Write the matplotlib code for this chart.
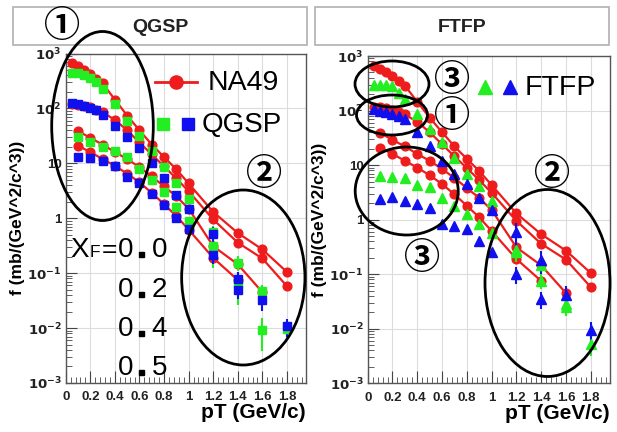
import numpy as np
import matplotlib
matplotlib.use("Agg")
import matplotlib.pyplot as plt
from matplotlib.patches import Ellipse, Rectangle
from matplotlib.ticker import FixedLocator, NullFormatter, LogLocator, MultipleLocator

# ---------------- data ----------------
pt_ab = [0.05, 0.1, 0.15, 0.2, 0.25, 0.3, 0.4, 0.5, 0.6, 0.7, 0.8, 0.9, 1.0, 1.2, 1.4, 1.6, 1.8]
pt_c = [0.1, 0.2, 0.3, 0.4, 0.5, 0.6, 0.7, 0.8, 0.9, 1.0, 1.2, 1.4, 1.6]
pt_d = [0.1, 0.2, 0.3, 0.4, 0.5, 0.6, 0.7, 0.8, 0.9, 1.0, 1.2, 1.4]

na49_a = [660, 590, 505, 430, 350, 285, 145, 74, 40, 22, 13, 7.8, 4.3, 1.3, 0.54, 0.27, 0.105]
na49_b = [118, 115, 110, 104, 95, 85, 62, 40, 24, 14.5, 8.8, 5.3, 3.1, 0.95, 0.36, 0.185, 0.058]
na49_c = [39, 29, 22, 16, 12, 8.5, 5.8, 3.8, 2.5, 1.5, 0.31, 0.145, 0.045]
na49_d = [21, 16, 12, 9, 6.5, 4.5, 2.9, 1.8, 1.1, 0.62, 0.19, 0.075]

qgsp_a = [440, 440, 410, 360, 300, 230, 120, 58, 32, 16.5, 8.5, 4.3, 2.2, 0.56, 0.156, 0.047, 0.0095]
qgsp_b = [124, 119, 112, 100, 93, 76, 48, 30, 19, 10, 5.5, 2.6, 1.48, 0.52, 0.077, 0.032, 0.0108]
qgsp_c = [30, 24, 19.6, 16.6, 12.9, 7.9, 5.0, 2.95, 1.6, 0.9, 0.31, 0.065, 0.0094]
qgsp_d = [13, 12.6, 11.2, 9.1, 5.7, 4.3, 2.8, 1.75, 1.0, 0.64, 0.21, 0.049]

ftfp_a = [300, 300, 300, 280, 213, 160, 85, 45, 26, 13.7, 6.8, 4.1, 2.2, 0.28, 0.15, 0.029, 0.0052]
ftfp_b = [105, 100, 95, 88, 80, 70, 40, 22, 12, 7.0, 4.5, 2.5, 1.5, 0.59, 0.18, 0.042, 0.0093]
ftfp_c = [6.3, 6.0, 5.7, 4.4, 3.9, 2.5, 1.8, 1.25, 0.85, 0.58, 0.25, 0.076, 0.025]
ftfp_d = [2.4, 2.6, 2.2, 1.9, 1.66, 0.85, 0.75, 0.66, 0.4, 0.25, 0.1, 0.035]

# relative errors of the model points at high pT
qgsp_rel_err = {"a": 0.3, "b": 0.35, "c": 0.6, "d": 0.3}
ftfp_rel_err = {"a": 0.4, "b": 0.45, "c": 0.3, "d": 0.35}

xf_labels = ["0", "0", "0", "0"]
xf_digits = ["0", "2", "4", "5"]
x_ticks = [0, 0.2, 0.4, 0.6, 0.8, 1, 1.2, 1.4, 1.6, 1.8]
x_tick_labels = ["0", "0.2", "0.4", "0.6", "0.8", "1", "1.2", "1.4", "1.6", "1.8"]
y_ticks = [1e-3, 1e-2, 1e-1, 1, 10, 1e2, 1e3]
y_tick_labels = [r"$\mathbf{10^{-3}}$", r"$\mathbf{10^{-2}}$", r"$\mathbf{10^{-1}}$", "1", "10",
                 r"$\mathbf{10^{2}}$", r"$\mathbf{10^{3}}$"]

RED = "#ee1c1c"
GREEN = "#22ee22"
BLUE = "#1010ee"

W, H = 617, 432
fig = plt.figure(figsize=(W / 100, H / 100), dpi=100)

SANS = ["Liberation Sans", "DejaVu Sans"]
CJK = ["Noto Sans CJK JP", "DejaVu Sans"]


def px_axes(x0, x1, ytop, ybot):
    return fig.add_axes([x0 / W, 1 - ybot / H, (x1 - x0) / W, (ybot - ytop) / H])


def style_axes(ax):
    ax.set_yscale("log")
    ax.set_xlim(0, 1.955)
    ax.set_ylim(1e-3, 1e3)
    ax.xaxis.set_major_locator(FixedLocator(x_ticks))
    ax.set_xticklabels(x_tick_labels)
    ax.xaxis.set_minor_locator(MultipleLocator(0.04))
    ax.yaxis.set_major_locator(FixedLocator(y_ticks))
    ax.set_yticklabels(y_tick_labels)
    ax.yaxis.set_minor_locator(LogLocator(base=10, subs=np.arange(2, 10), numticks=20))
    ax.yaxis.set_minor_formatter(NullFormatter())
    ax.grid(True, which="major", color="#dcdcdc", lw=0.8)
    ax.set_axisbelow(True)
    ax.tick_params(which="both", direction="in", top=False, right=False, colors="#444444")
    ax.tick_params(axis="x", which="major", length=9, pad=6)
    ax.tick_params(axis="x", which="minor", length=4.5)
    ax.tick_params(axis="y", which="major", length=8, pad=3)
    ax.tick_params(axis="y", which="minor", length=4)
    for lab in ax.get_xticklabels() + ax.get_yticklabels():
        lab.set_fontfamily(SANS)
        lab.set_fontweight("bold")
        lab.set_fontsize(9.5)
        lab.set_color("#222222")
    for s in ax.spines.values():
        s.set_color("#555555")
        s.set_linewidth(1.0)
    ax.set_ylabel("f (mb/(GeV^2/c^3))", fontsize=12.5, fontweight="bold", family=SANS, labelpad=2)
    ax.set_xlabel("pT (GeV/c)", fontsize=15, fontweight="bold", family=SANS, loc="right", labelpad=0)


def draw_na49(ax):
    for xs, ys in [(pt_ab, na49_a), (pt_ab, na49_b), (pt_c, na49_c), (pt_d, na49_d)]:
        ax.plot(xs, ys, "-o", color=RED, lw=1.6, ms=6.3, mec=RED, mfc=RED, zorder=3)


def draw_model(ax, series, marker, rel, ms):
    for (xs, ys, col, key) in series:
        ys = np.asarray(ys, float)
        xs = np.asarray(xs, float)
        err = np.where(xs >= 1.15, ys * rel[key], 0.0)
        ax.errorbar(xs, ys, yerr=[np.minimum(err, ys * 0.6), err], fmt=marker, color=col, ms=ms,
                    mec=col, mfc=col, elinewidth=1.5, capsize=0, zorder=4)


# ---------------- left panel ----------------
axL = px_axes(65.7, 306, 53.5, 383)
style_axes(axL)
draw_model(axL, [(pt_ab, qgsp_a, GREEN, "a"), (pt_c, qgsp_c, GREEN, "c"),
                 (pt_ab, qgsp_b, BLUE, "b"), (pt_d, qgsp_d, BLUE, "d")], "s", qgsp_rel_err, 6.3)
draw_na49(axL)

# ---------------- right panel ----------------
axR = px_axes(367.7, 610, 56, 383.3)
style_axes(axR)
draw_model(axR, [(pt_ab, ftfp_a, GREEN, "a"), (pt_c, ftfp_c, GREEN, "c"),
                 (pt_ab, ftfp_b, BLUE, "b"), (pt_d, ftfp_d, BLUE, "d")], "^", ftfp_rel_err, 6.5)
draw_na49(axR)

# ---------------- overlay in pixel coordinates ----------------
ov = fig.add_axes([0, 0, 1, 1], zorder=10)
ov.set_xlim(0, W)
ov.set_ylim(H, 0)
ov.axis("off")
ov.patch.set_alpha(0)

# title boxes
for (x0, x1, title) in [(13, 307, "QGSP"), (315, 609, "FTFP")]:
    ov.add_patch(Rectangle((x0, 7), x1 - x0, 38, fill=True, fc="white", ec="#b0b0b0", lw=1.2))
    ov.text((x0 + x1) / 2, 27, title, ha="center", va="center", fontsize=14,
            fontweight="bold", family=SANS, color="#222222")

# legends
ov.plot([155, 197], [82, 82], color=RED, lw=2)
ov.plot([176], [82], "o", color=RED, ms=9.5)
ov.text(208, 83, "NA49", fontsize=20.5, family=SANS, va="center", ha="left")
ov.plot([163], [124], "s", color=GREEN, ms=9)
ov.plot([188], [124], "s", color=BLUE, ms=9)
ov.text(202, 125, "QGSP", fontsize=20, family=SANS, va="center", ha="left")
ov.plot([485], [87], "^", color=GREEN, ms=10)
ov.plot([510], [87], "^", color=BLUE, ms=10)
ov.text(525, 88, "FTFP", fontsize=20.5, family=SANS, va="center", ha="left")

# XF labels
ov.text(80, 257, "X", fontsize=20, family=SANS, ha="center", va="baseline")
ov.text(95, 257, "F", fontsize=12.5, family=SANS, ha="center", va="baseline")
ov.text(109.5, 257, "=", fontsize=19, family=SANS, ha="center", va="baseline")
for i, (a, b) in enumerate(zip(xf_labels, xf_digits)):
    yb = [257, 297, 336, 375][i]
    ov.text(126, yb, a, fontsize=20, family=SANS, ha="center", va="baseline")
    ov.add_patch(Rectangle((139, yb - 5), 5, 5, color="black"))
    ov.text(159.5, yb, b, fontsize=20, family=SANS, ha="center", va="baseline")

# ellipses
for (cx, cy, w, h) in [(102.5, 126, 101.6, 189), (243.3, 277.5, 123.3, 175),
                       (392, 84, 74, 46), (392, 115, 71, 40), (406.7, 191, 103, 88),
                       (547.5, 283, 125, 187)]:
    ov.add_patch(Ellipse((cx, cy), w, h, fill=False, ec="black", lw=2))

# circled numbers
for (x, y, s) in [(62, 27, "①"), (264, 174, "②"), (452, 81, "③"), (452, 116, "①"),
                  (552, 174, "②"), (422, 259, "③")]:
    ov.text(x, y, s, fontsize=26, family=CJK, ha="center", va="center", fontweight="bold")

fig.savefig("out.png", dpi=100)
